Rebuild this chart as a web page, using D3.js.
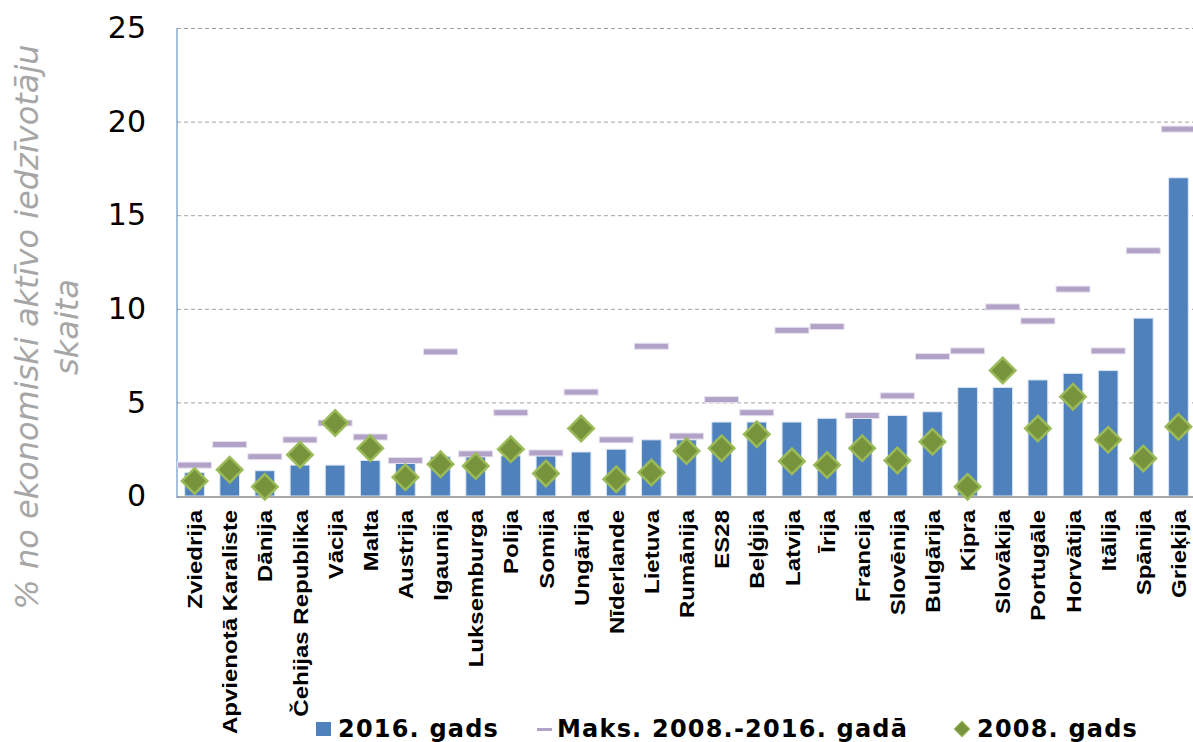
<!DOCTYPE html>
<html>
<head>
<meta charset="utf-8">
<script src="https://cdn.jsdelivr.net/npm/d3@7"></script>
<style>
    body { margin: 0; background: #fff; }
    .tick text { font-family: "DejaVu Sans", Verdana, sans-serif; }
</style>
</head>
<body>
<svg id="chart"></svg>
<script>
// categories, left to right
let countries = ["Zviedrija", "Apvienotā Karaliste", "Dānija", "Čehijas Republika", "Vācija", "Malta",
    "Austrija", "Igaunija", "Luksemburga", "Polija", "Somija", "Ungārija", "Nīderlande", "Lietuva",
    "Rumānija", "ES28", "Beļģija", "Latvija", "Īrija", "Francija", "Slovēnija", "Bulgārija", "Kipra",
    "Slovākija", "Portugāle", "Horvātija", "Itālija", "Spānija", "Grieķija"]

// 2016 (bars)
let values2016 = [1.25, 1.3, 1.35, 1.65, 1.65, 1.9, 1.8, 2.1, 2.1, 2.15, 2.15, 2.35, 2.5, 3.0,
    3.0, 3.95, 3.95, 3.95, 4.15, 4.2, 4.3, 4.5, 5.8, 5.8, 6.2, 6.55, 6.7, 9.5, 17.0]

// max 2008-2016 (dashes)
let valuesMax = [1.65, 2.75, 2.1, 3.0, 3.9, 3.15, 1.9, 7.7, 2.25, 4.45, 2.3, 5.55, 3.0, 8.0,
    3.2, 5.15, 4.45, 8.85, 9.05, 4.3, 5.35, 7.45, 7.75, 10.1, 9.35, 11.05, 7.75, 13.1, 19.6]

// 2008 (diamonds)
let values2008 = [0.8, 1.4, 0.5, 2.2, 3.9, 2.55, 1.0, 1.7, 1.6, 2.5, 1.2, 3.6, 0.9, 1.25,
    2.4, 2.55, 3.3, 1.85, 1.65, 2.55, 1.9, 2.9, 0.5, 6.7, 3.6, 5.3, 3.0, 2.0, 3.7]

let yTicks = [0, 5, 10, 15, 20, 25]

let legendLabels = ["2016. gads", "Maks. 2008.-2016. gadā", "2008. gads"]
let yLabelLines = ["% no ekonomiski aktīvo iedzīvotāju", "skaita"]

let w = 1193, h = 742
let margin = { top: 28, left: 177, right: -3, bottom: 246 }

let data = countries.map((c, i) => ({
    name: c,
    v2016: values2016[i],
    vMax: valuesMax[i],
    v2008: values2008[i]
}))

let xScale = d3.scaleBand()
    .domain(countries)
    .range([margin.left, w - margin.right])
    .paddingInner(0.44)
    .paddingOuter(0.22)

let yScale = d3.scaleLinear()
    .domain([0, 25])
    .range([h - margin.bottom, margin.top])

let svg = d3.select("#chart")
    .attr("width", w)
    .attr("height", h)

//dashed gridlines
svg.append("g")
    .attr("transform", "translate(" + margin.left + ",0)")
    .call(d3.axisLeft(yScale).tickValues(yTicks.slice(1)).tickSize(-(w - margin.left)).tickFormat(""))
    .call(g => g.select(".domain").remove())
    .selectAll("line")
    .attr("stroke", "#a0a0a0")
    .attr("stroke-dasharray", "4,3")

//y tick labels
svg.append("g")
    .attr("transform", "translate(" + margin.left + ",0)")
    .call(d3.axisLeft(yScale).tickValues(yTicks).tickSize(0).tickPadding(31))
    .call(g => g.select(".domain").remove())
    .selectAll("text")
    .attr("font-size", "30px")
    .attr("fill", "#000")

//bars
svg.selectAll("rect.bar")
    .data(data)
    .enter()
    .append("rect")
    .attr("class", "bar")
    .attr("x", d => xScale(d.name))
    .attr("width", xScale.bandwidth())
    .attr("y", d => yScale(d.v2016))
    .attr("height", d => yScale(0) - yScale(d.v2016))
    .attr("fill", "#4f81bd")
    .attr("stroke", "#dce6f2")
    .attr("stroke-width", 1)

//axis lines
svg.append("line")
    .attr("x1", margin.left).attr("x2", w)
    .attr("y1", yScale(0) + 1).attr("y2", yScale(0) + 1)
    .attr("stroke", "#a6a6a6")
    .attr("stroke-width", 2)

svg.append("line")
    .attr("x1", margin.left).attr("x2", margin.left)
    .attr("y1", yScale(25)).attr("y2", yScale(0) + 2)
    .attr("stroke", "#4f81bd")
    .attr("stroke-width", 1)

//max dashes
svg.selectAll("rect.maxmark")
    .data(data)
    .enter()
    .append("rect")
    .attr("class", "maxmark")
    .attr("x", d => xScale(d.name) + xScale.bandwidth() / 2 - 17)
    .attr("width", 34)
    .attr("y", d => yScale(d.vMax) - 3)
    .attr("height", 6)
    .attr("fill", "#b3a2c7")
    .attr("stroke", "#e6e0ee")
    .attr("stroke-width", 1)

//2008 diamonds
let diamond = d3.symbol(d3.symbolSquare, 324)
svg.selectAll("path.dot")
    .data(data)
    .enter()
    .append("path")
    .attr("class", "dot")
    .attr("d", diamond)
    .attr("transform", d => "translate(" + (xScale(d.name) + xScale.bandwidth() / 2) + "," + yScale(d.v2008) + ") rotate(45)")
    .attr("fill", "#77933c")
    .attr("stroke", "#9bbb59")
    .attr("stroke-width", 2.5)

//category labels, rotated (squeezed a bit across to match the original)
svg.selectAll("text.country")
    .data(data)
    .enter()
    .append("text")
    .attr("class", "country")
    .attr("transform", d => "translate(" + (xScale(d.name) + xScale.bandwidth() / 2) + ",510) rotate(-90) scale(1,0.88)")
    .attr("text-anchor", "end")
    .attr("dy", "0.36em")
    .attr("font-family", "'Liberation Sans', Arial, sans-serif")
    .attr("font-weight", "bold")
    .attr("font-size", "24px")
    .text(d => d.name)

//y axis title, two lines
svg.selectAll("text.ylabel")
    .data(yLabelLines)
    .enter()
    .append("text")
    .attr("class", "ylabel")
    .attr("transform", (d, i) => "translate(" + (38 + i * 40) + ",327) rotate(-90)")
    .attr("text-anchor", "middle")
    .attr("font-family", "'DejaVu Sans', sans-serif")
    .attr("font-style", "italic")
    .attr("font-size", "32px")
    .attr("fill", "#a6a6a6")
    .text(d => d)

//legend
let legend = svg.append("g")
    .attr("font-family", "'DejaVu Sans', Verdana, sans-serif")
    .attr("font-weight", "bold")
    .attr("font-size", "24px")
    .attr("letter-spacing", "1.2px")

legend.append("rect")
    .attr("x", 316).attr("y", 722)
    .attr("width", 15).attr("height", 14)
    .attr("fill", "#4f81bd")

legend.append("rect")
    .attr("x", 537).attr("y", 728)
    .attr("width", 15).attr("height", 3)
    .attr("fill", "#b3a2c7")

legend.append("path")
    .attr("d", d3.symbol(d3.symbolSquare, 120))
    .attr("transform", "translate(962,729) rotate(45)")
    .attr("fill", "#77933c")
    .attr("stroke", "#9bbb59")
    .attr("stroke-width", 1)

let legendX = [338, 557, 977]
legend.selectAll("text")
    .data(legendLabels)
    .enter()
    .append("text")
    .attr("x", (d, i) => legendX[i])
    .attr("y", 737)
    .attr("fill", "#000")
    .text(d => d)
</script>
</body>
</html>
